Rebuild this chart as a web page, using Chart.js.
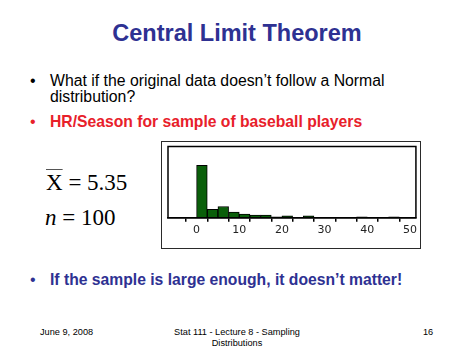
<!DOCTYPE html>
<html>
<head>
<meta charset="utf-8">
<script src="https://cdn.jsdelivr.net/npm/chart.js@4/dist/chart.umd.min.js"></script>
<style>
  html, body { margin:0; padding:0; background:#fff; }
  body { width:474px; height:355px; position:relative; overflow:hidden; font-family:"Liberation Sans", Arial, sans-serif; }
  .t { position:absolute; white-space:nowrap; line-height:1; }
  #frame { position:absolute; left:161px; top:141px; width:260px; height:108px; box-sizing:border-box; border:1.5px solid #2a2a2a; }
  #wrap { position:absolute; left:163px; top:143px; width:256px; height:104px; }
</style>
</head>
<body>
<div class="t" style="left:0;width:474px;text-align:center;top:22px;font-size:23.5px;font-weight:bold;color:#2e3192;">Central Limit Theorem</div>

<div class="t" style="left:30px;top:72.7px;font-size:16px;color:#000;">•</div>
<div class="t" style="left:50px;top:72.7px;font-size:15.8px;color:#000;">What if the original data doesn’t follow a Normal</div>
<div class="t" style="left:50px;top:88.5px;font-size:15.8px;color:#000;">distribution?</div>
<div class="t" style="left:30px;top:113.7px;font-size:16px;color:#e8202a;">•</div>
<div class="t" style="left:50px;top:113.7px;font-size:15.7px;font-weight:bold;color:#e8202a;">HR/Season for sample of baseball players</div>

<div class="t" style="left:46px;top:170.7px;font-family:'Liberation Serif','Times New Roman',serif;font-size:23px;color:#000;"><span style="text-decoration:overline;text-decoration-thickness:1px;text-decoration-color:#555;">X</span> = 5.35</div>
<div class="t" style="left:45px;top:205.7px;font-family:'Liberation Serif','Times New Roman',serif;font-size:23px;color:#000;"><i>n</i> = 100</div>

<div id="frame"></div>
<div id="wrap"><canvas id="c" width="256" height="104"></canvas></div>

<div class="t" style="left:30px;top:272px;font-size:16px;color:#2e3192;">•</div>
<div class="t" style="left:50px;top:272px;font-size:15.7px;font-weight:bold;color:#2e3192;">If the sample is large enough, it doesn’t matter!</div>

<div class="t" style="left:40px;top:327.5px;font-size:9.2px;color:#000;">June 9, 2008</div>
<div class="t" style="left:0;width:474px;text-align:center;top:327.5px;font-size:9.2px;color:#000;">Stat 111 - Lecture 8 - Sampling</div>
<div class="t" style="left:0;width:474px;text-align:center;top:338.5px;font-size:9.2px;color:#000;">Distributions</div>
<div class="t" style="left:423px;top:327.5px;font-size:9.2px;color:#000;">16</div>

<script>
// Histogram of HR/Season, bins of width 2.5 (lower edges)
const binEdges = [0, 2.5, 5, 7.5, 10, 12.5, 15, 17.5, 20, 22.5, 25, 27.5, 30, 32.5, 35, 37.5, 40, 42.5, 45, 47.5];
const counts   = [56, 9, 12, 6, 4, 3, 3, 1, 2, 0, 2, 0, 0, 0, 0, 1, 0, 0, 1, 0];
const binWidth = 2.5;
const tickLabels = ['0', '10', '20', '30', '40', '50'];

const frameBox = {
  id: 'frameBox',
  afterDatasetsDraw(chart) {
    const a = chart.chartArea, ctx = chart.ctx;
    ctx.save();
    ctx.strokeStyle = '#000';
    ctx.lineWidth = 1.5;
    ctx.strokeRect(a.left, a.top, a.right - a.left, a.bottom - a.top);
    ctx.restore();
  }
};

new Chart(document.getElementById('c'), {
  type: 'bar',
  data: {
    datasets: [{
      data: binEdges.map((e, i) => ({ x: e + binWidth / 2, y: counts[i] })),
      backgroundColor: '#0a5f0a',
      borderColor: '#000',
      borderWidth: 1,
      barPercentage: 1,
      categoryPercentage: 1
    }]
  },
  options: {
    responsive: false,
    animation: false,
    events: [],
    layout: { padding: { left: 5, top: 3.5, right: 2.3, bottom: 8 } },
    plugins: { legend: { display: false }, tooltip: { enabled: false }, title: { display: false } },
    scales: {
      x: {
        type: 'linear',
        min: -6.7,
        max: 51.4,
        offset: false,
        grid: { display: true, drawOnChartArea: false, drawTicks: true, tickLength: 4, color: '#000', lineWidth: 1.5 },
        border: { display: true, color: '#000', width: 1.5 },
        ticks: {
          stepSize: 5,
          includeBounds: false,
          autoSkip: false,
          maxRotation: 0,
          padding: 2,
          color: '#222',
          font: { family: 'DejaVu Sans', size: 11 },
          callback: (v) => (v % 10 === 0 ? (tickLabels[tickLabels.indexOf(String(v))] || '') : '')
        }
      },
      y: {
        display: false,
        min: 0,
        max: 76
      }
    }
  },
  plugins: [frameBox]
});
</script>
</body>
</html>
